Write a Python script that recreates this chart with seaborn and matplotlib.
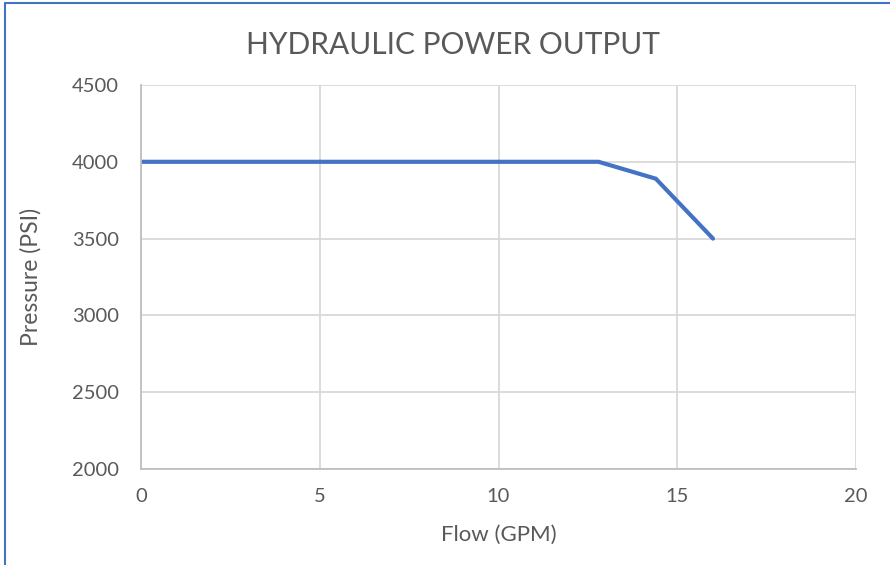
import matplotlib
matplotlib.use("Agg")
import matplotlib.pyplot as plt
import seaborn as sns
import pandas as pd
from matplotlib.lines import Line2D

# data
flow_gpm = [0, 12.8, 14.4, 16.0]
pressure_psi = [4000, 4000, 3890, 3500]
x_ticks = [0, 5, 10, 15, 20]
y_ticks = [2000, 2500, 3000, 3500, 4000, 4500]

df = pd.DataFrame({"Flow (GPM)": flow_gpm, "Pressure (PSI)": pressure_psi})

sns.set_style("white")
plt.rcParams["font.family"] = ["Lato", "DejaVu Sans"]
text_color = "#595959"

fig = plt.figure(figsize=(8.9, 5.65), dpi=100)
ax = fig.add_axes([141 / 890, 1 - 469 / 565, (856 - 141) / 890, (469 - 85) / 565])

sns.lineplot(data=df, x="Flow (GPM)", y="Pressure (PSI)", ax=ax,
             color="#4472C4", linewidth=3, solid_joinstyle="miter")

ax.set_xlim(0, 20)
ax.set_ylim(2000, 4500)
ax.set_xticks(x_ticks)
ax.set_yticks(y_ticks)
ax.grid(True, color="#D9D9D9", linewidth=1.3)
ax.set_axisbelow(True)
for name, sp in ax.spines.items():
    sp.set_visible(name in ("left", "bottom"))
    sp.set_color("#BFBFBF")
    sp.set_linewidth(1.3)
ax.tick_params(length=0, labelsize=14.5, labelcolor=text_color)
ax.tick_params(axis="x", pad=14)
ax.tick_params(axis="y", pad=16)

ax.set_xlabel("Flow (GPM)", fontsize=16, color=text_color, labelpad=14)
ax.set_ylabel("Pressure (PSI)", fontsize=16.5, color=text_color, labelpad=22)
fig.text(453 / 890, 1 - 45 / 565, "HYDRAULIC POWER OUTPUT", ha="center", va="center",
         fontsize=21.5, color=text_color)

# blue chart frame (left and top edges visible)
fig.add_artist(Line2D([5 / 890, 5 / 890], [0, 1 - 3 / 565], transform=fig.transFigure,
                      color="#4472C4", linewidth=1.5))
fig.add_artist(Line2D([5 / 890, 1], [1 - 3 / 565, 1 - 3 / 565], transform=fig.transFigure,
                      color="#4472C4", linewidth=1.5))

fig.savefig("out.png", dpi=100)
